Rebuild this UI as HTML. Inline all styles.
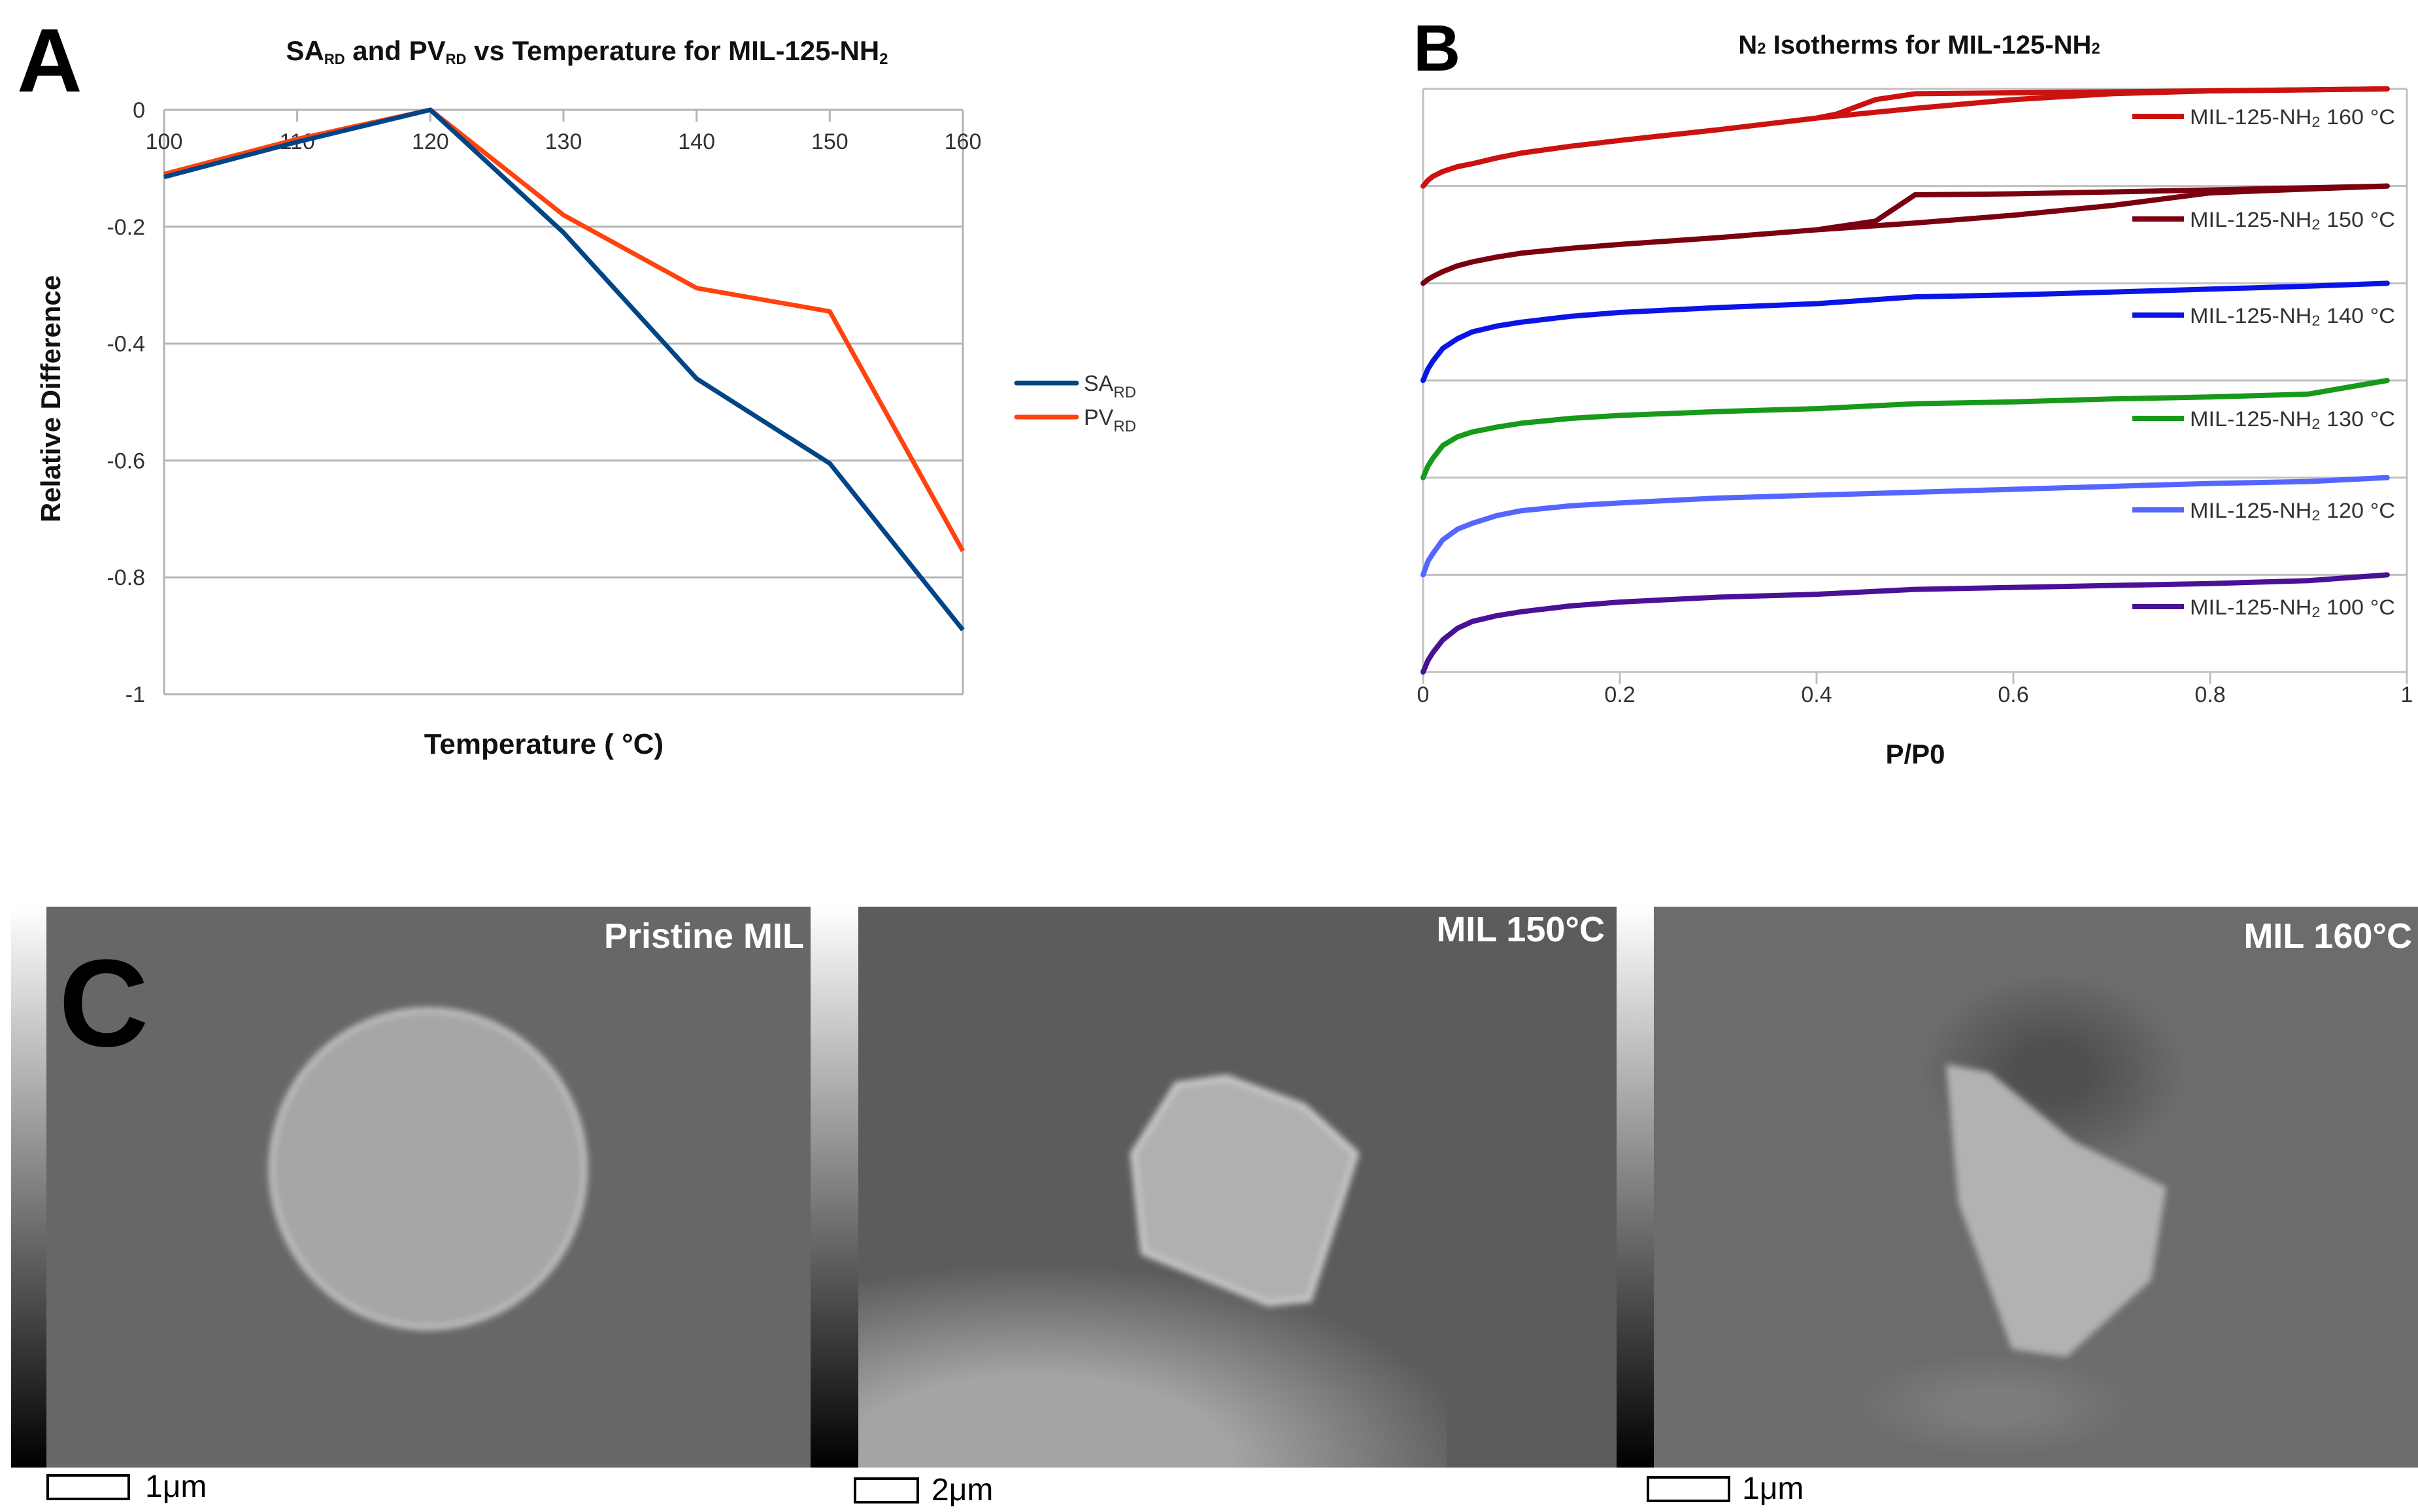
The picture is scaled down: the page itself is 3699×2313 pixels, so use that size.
<!DOCTYPE html>
<html><head><meta charset="utf-8"><style>
html,body{margin:0;padding:0;background:#fff;width:3699px;height:2313px;overflow:hidden}
svg{display:block}
text{font-family:"Liberation Sans",sans-serif}
</style></head><body>
<svg id="fig" width="3699" height="2313" viewBox="0 0 3699 2313" xmlns="http://www.w3.org/2000/svg">
<defs>
<linearGradient id="cbar" x1="0" y1="0" x2="0" y2="1"><stop offset="0" stop-color="#fff"/><stop offset="1" stop-color="#000"/></linearGradient>
<radialGradient id="bright" cx="0.3" cy="1" r="0.75"><stop offset="0.45" stop-color="#a4a4a4"/><stop offset="1" stop-color="#a4a4a4" stop-opacity="0"/></radialGradient>
<radialGradient id="shadow" cx="0.5" cy="0.5" r="0.5"><stop offset="0.3" stop-color="#505050"/><stop offset="1" stop-color="#505050" stop-opacity="0"/></radialGradient>
<radialGradient id="blob" cx="0.5" cy="0.5" r="0.5"><stop offset="0.3" stop-color="#7c7c7c"/><stop offset="1" stop-color="#7c7c7c" stop-opacity="0"/></radialGradient>
<filter id="blur"><feGaussianBlur stdDeviation="5"/></filter>
<clipPath id="clip1"><rect x="71" y="1387" width="1169" height="858"/></clipPath>
<clipPath id="clip2"><rect x="1313" y="1387" width="1160" height="858"/></clipPath>
<clipPath id="clip3"><rect x="2530" y="1387" width="1169" height="858"/></clipPath>
</defs>
<g id="panelA"></g>
<g id="panelB"></g>
<g id="panelC">
  <rect x="17" y="1387" width="54" height="858" fill="url(#cbar)"/>
  <g clip-path="url(#clip1)">
  <rect x="71" y="1387" width="1169" height="858" fill="#676767"/>
  <ellipse cx="655" cy="1788" rx="240" ry="243" fill="#a6a6a6" stroke="#c4c4c4" stroke-width="8" filter="url(#blur)"/>
  </g>
  <text x="1230" y="1450" text-anchor="end" font-size="54" font-weight="bold" fill="#fff">Pristine MIL</text>
  <text x="90" y="1600" font-size="190" font-weight="bold" fill="#000">C</text>

  <rect x="1240" y="1387" width="73" height="858" fill="url(#cbar)"/>
  <g clip-path="url(#clip2)">
  <rect x="1313" y="1387" width="1160" height="858" fill="#5c5c5c"/>
  <rect x="1313" y="1830" width="900" height="415" fill="url(#bright)"/>
  <polygon points="1800,1659 1876,1648 1995,1692 2075,1765 2003,1988 1940,1994 1749,1916 1733,1765" fill="#b0b0b0" stroke="#d0d0d0" stroke-width="8" filter="url(#blur)"/>
  </g>
  <text x="2455" y="1440" text-anchor="end" font-size="54" font-weight="bold" fill="#fff">MIL 150°C</text>

  <rect x="2473" y="1387" width="57" height="858" fill="url(#cbar)"/>
  <g clip-path="url(#clip3)">
  <rect x="2530" y="1387" width="1169" height="858" fill="#6c6c6c"/>
  <ellipse cx="3140" cy="1640" rx="200" ry="150" fill="url(#shadow)"/>
  <ellipse cx="3050" cy="2150" rx="220" ry="80" fill="url(#blob)"/>
  <polygon points="2977,1628 3043,1640 3173,1746 3314,1816 3291,1958 3161,2076 3078,2064 2996,1840" fill="#b2b2b2" filter="url(#blur)"/>
  </g>
  <text x="3690" y="1450" text-anchor="end" font-size="54" font-weight="bold" fill="#fff">MIL 160°C</text>

  <rect x="73" y="2257" width="124" height="36" fill="none" stroke="#000" stroke-width="4"/>
  <text x="222" y="2290" font-size="48" fill="#000">1μm</text>
  <rect x="1308" y="2262" width="96" height="36" fill="none" stroke="#000" stroke-width="4"/>
  <text x="1425" y="2295" font-size="48" fill="#000">2μm</text>
  <rect x="2521" y="2260" width="124" height="36" fill="none" stroke="#000" stroke-width="4"/>
  <text x="2665" y="2293" font-size="48" fill="#000">1μm</text>
</g>
</svg>
<script>
// ---------- Panel A data ----------
const tempCategories = [100, 110, 120, 130, 140, 150, 160];
const saValues = [-0.115, -0.055, 0, -0.21, -0.46, -0.605, -0.89];
const pvValues = [-0.11, -0.05, 0, -0.18, -0.305, -0.345, -0.755];
const aYTicks = [0, -0.2, -0.4, -0.6, -0.8, -1];
const aYTickLabels = ["0", "-0.2", "-0.4", "-0.6", "-0.8", "-1"];

// ---------- Panel B data ----------
const isoLabels = ["160", "150", "140", "130", "120", "100"];
const isoP = [0, 0.005, 0.01, 0.02, 0.035, 0.05, 0.075, 0.1, 0.15, 0.2, 0.3, 0.4, 0.5, 0.6, 0.7, 0.8, 0.9, 0.98];
const iso160Ads = [0, 0.06, 0.1, 0.15, 0.2, 0.23, 0.29, 0.34, 0.41, 0.47, 0.58, 0.70, 0.80, 0.89, 0.95, 0.98, 0.99, 1];
const iso150Ads = [0, 0.04, 0.07, 0.12, 0.18, 0.22, 0.27, 0.31, 0.36, 0.40, 0.47, 0.55, 0.62, 0.70, 0.80, 0.93, 0.97, 1];
const iso140Ads = [0, 0.12, 0.2, 0.33, 0.43, 0.50, 0.56, 0.60, 0.66, 0.70, 0.75, 0.79, 0.86, 0.88, 0.91, 0.94, 0.97, 1];
const iso130Ads = [0, 0.12, 0.2, 0.33, 0.42, 0.47, 0.52, 0.56, 0.61, 0.64, 0.68, 0.71, 0.76, 0.78, 0.81, 0.83, 0.86, 1];
const iso120Ads = [0, 0.14, 0.22, 0.36, 0.47, 0.53, 0.61, 0.66, 0.71, 0.74, 0.79, 0.82, 0.85, 0.88, 0.91, 0.94, 0.96, 1];
const iso100Ads = [0, 0.12, 0.2, 0.33, 0.45, 0.52, 0.58, 0.62, 0.68, 0.72, 0.77, 0.80, 0.85, 0.87, 0.89, 0.91, 0.94, 1];
const desP = [0.4, 0.42, 0.46, 0.5, 0.6, 0.7, 0.8, 0.98];
const iso160Des = [0.70, 0.74, 0.89, 0.95, 0.96, 0.97, 0.98, 1];
const iso150Des = [0.55, 0.58, 0.64, 0.91, 0.92, 0.94, 0.96, 1];
const xTicksB = [0, 0.2, 0.4, 0.6, 0.8, 1];
const xTickLabelsB = ["0", "0.2", "0.4", "0.6", "0.8", "1"];

const NS = "http://www.w3.org/2000/svg";
function mk(parent, tag, attrs, txt) {
  const e = document.createElementNS(NS, tag);
  for (const k in attrs) e.setAttribute(k, attrs[k]);
  if (txt !== undefined) e.textContent = txt;
  parent.appendChild(e);
  return e;
}

// ---------- Panel A ----------
(function(){
  const g = document.getElementById('panelA');
  const L = 251, R = 1473, T = 168, B = 1062;
  const xA = t => L + (t - 100) / 60 * (R - L);
  const yA = v => T + (0 - v) / 1 * (B - T);
  let e;
  aYTicks.forEach((v, i) => {
    e = mk(g, 'line', {x1: L, x2: R, y1: yA(v), y2: yA(v), stroke: '#b3b3b3', 'stroke-width': 3});
    
    
    e = mk(g, 'text', {x: 222, y: yA(v) + 12, 'text-anchor': 'end', 'font-size': 34, fill: '#333'}, aYTickLabels[i]);
    
    
  });
  e = mk(g, 'line', {x1: L, x2: L, y1: T, y2: B, stroke: '#b3b3b3', 'stroke-width': 3});
  
  
  e = mk(g, 'line', {x1: R, x2: R, y1: T, y2: B, stroke: '#b3b3b3', 'stroke-width': 3});
  
  
  tempCategories.forEach(t => {
    e = mk(g, 'line', {x1: xA(t), x2: xA(t), y1: T, y2: T + 18, stroke: '#b3b3b3', 'stroke-width': 3});
    
    
    e = mk(g, 'text', {x: xA(t), y: 228, 'text-anchor': 'middle', 'font-size': 34, fill: '#333'}, String(t));
    
    
  });
  const pts = vals => vals.map((v, i) => xA(tempCategories[i]) + ',' + yA(v)).join(' ');
  e = mk(g, 'polyline', {points: pts(pvValues), fill: 'none', stroke: '#ff420e', 'stroke-width': 7, 'stroke-linejoin': 'round'});
  
  
  e = mk(g, 'polyline', {points: pts(saValues), fill: 'none', stroke: '#004586', 'stroke-width': 7, 'stroke-linejoin': 'round'});
  
  
  e = mk(g, 'text', {x: 898, y: 92, 'text-anchor': 'middle', 'font-size': 42, 'font-weight': 'bold', fill: '#111'});
  e.innerHTML = 'SA<tspan font-size="22" dy="6">RD</tspan><tspan dy="-6"> and PV</tspan><tspan font-size="22" dy="6">RD</tspan><tspan dy="-6"> vs Temperature for MIL-125-NH</tspan><tspan font-size="24" dy="6">2</tspan>';
  
  
  e = mk(g, 'text', {x: 26, y: 140, 'font-size': 138, 'font-weight': 'bold', fill: '#000'}, 'A');
  
  
  e = mk(g, 'text', {x: 0, y: 0, 'text-anchor': 'middle', 'font-size': 42, 'font-weight': 'bold', fill: '#111', transform: 'translate(92,610) rotate(-90)'}, 'Relative Difference');
  
  
  e = mk(g, 'text', {x: 832, y: 1153, 'text-anchor': 'middle', 'font-size': 44, 'font-weight': 'bold', fill: '#111'}, 'Temperature ( °C)');
  
  
  e = mk(g, 'line', {x1: 1555, x2: 1647, y1: 586, y2: 586, stroke: '#004586', 'stroke-width': 7, 'stroke-linecap': 'round'});
  
  
  e = mk(g, 'text', {x: 1658, y: 598, 'font-size': 34, fill: '#333'});
  e.innerHTML = 'SA<tspan font-size="24" dy="10">RD</tspan>';
  
  
  e = mk(g, 'line', {x1: 1555, x2: 1647, y1: 638, y2: 638, stroke: '#ff420e', 'stroke-width': 7, 'stroke-linecap': 'round'});
  
  
  e = mk(g, 'text', {x: 1658, y: 650, 'font-size': 34, fill: '#333'});
  e.innerHTML = 'PV<tspan font-size="24" dy="10">RD</tspan>';
  
  
})();

// ---------- Panel B ----------
(function(){
  const g = document.getElementById('panelB');
  const L = 2177, R = 3682, T = 136, B = 1028;
  const bandH = (B - T) / 6;
  const xB = p => L + p * (R - L);
  const yB = (band, f) => T + (band + 1) * bandH - f * bandH;
  let e;
  for (let i = 0; i <= 6; i++) {
    e = mk(g, 'line', {x1: L, x2: R, y1: T + i * bandH, y2: T + i * bandH, stroke: '#c0c0c0', 'stroke-width': 3});
    
    
  }
  e = mk(g, 'line', {x1: L, x2: L, y1: T, y2: B, stroke: '#c0c0c0', 'stroke-width': 3});
  
  
  e = mk(g, 'line', {x1: R, x2: R, y1: T, y2: B, stroke: '#c0c0c0', 'stroke-width': 3});
  
  
  xTicksB.forEach((p, i) => {
    e = mk(g, 'line', {x1: xB(p), x2: xB(p), y1: B, y2: B + 18, stroke: '#c0c0c0', 'stroke-width': 3});
    
    
    e = mk(g, 'text', {x: xB(p), y: 1074, 'text-anchor': 'middle', 'font-size': 34, fill: '#333'}, xTickLabelsB[i]);
    
    
  });
  const colors = ['#cc1111', '#7a0010', '#0a14e6', '#17991a', '#5566ff', '#4a1196'];
  const ads = [iso160Ads, iso150Ads, iso140Ads, iso130Ads, iso120Ads, iso100Ads];
  const des = [iso160Des, iso150Des, null, null, null, null];
  const legendY = [178, 335, 482, 640, 780, 928];
  ads.forEach((arr, b) => {
    e = mk(g, 'polyline', {points: arr.map((f, i) => xB(isoP[i]) + ',' + yB(b, f)).join(' '), fill: 'none', stroke: colors[b], 'stroke-width': 8, 'stroke-linejoin': 'round', 'stroke-linecap': 'round'});
    
    
    if (des[b]) {
      e = mk(g, 'polyline', {points: des[b].map((f, i) => xB(desP[i]) + ',' + yB(b, f)).join(' '), fill: 'none', stroke: colors[b], 'stroke-width': 8, 'stroke-linejoin': 'round', 'stroke-linecap': 'round'});
      
      
    }
    e = mk(g, 'line', {x1: 3262, x2: 3341, y1: legendY[b], y2: legendY[b], stroke: colors[b], 'stroke-width': 8});
    
    
    e = mk(g, 'text', {x: 3350, y: legendY[b] + 12, 'font-size': 32, fill: '#333', textLength: 314, lengthAdjust: 'spacingAndGlyphs'});
    e.innerHTML = 'MIL-125-NH<tspan font-size="22" dy="4">2</tspan><tspan dy="-4"> ' + isoLabels[b] + ' °C</tspan>';
    
    
  });
  e = mk(g, 'text', {x: 2936, y: 82, 'text-anchor': 'middle', 'font-size': 40, 'font-weight': 'bold', fill: '#111'});
  e.innerHTML = 'N<tspan font-size="24">2</tspan> Isotherms for MIL-125-NH<tspan font-size="24">2</tspan>';
  
  
  e = mk(g, 'text', {x: 2162, y: 108, 'font-size': 100, 'font-weight': 'bold', fill: '#000'}, 'B');
  
  
  e = mk(g, 'text', {x: 2930, y: 1168, 'text-anchor': 'middle', 'font-size': 42, 'font-weight': 'bold', fill: '#111'}, 'P/P0');
  
  
})();
</script>
</body></html>
